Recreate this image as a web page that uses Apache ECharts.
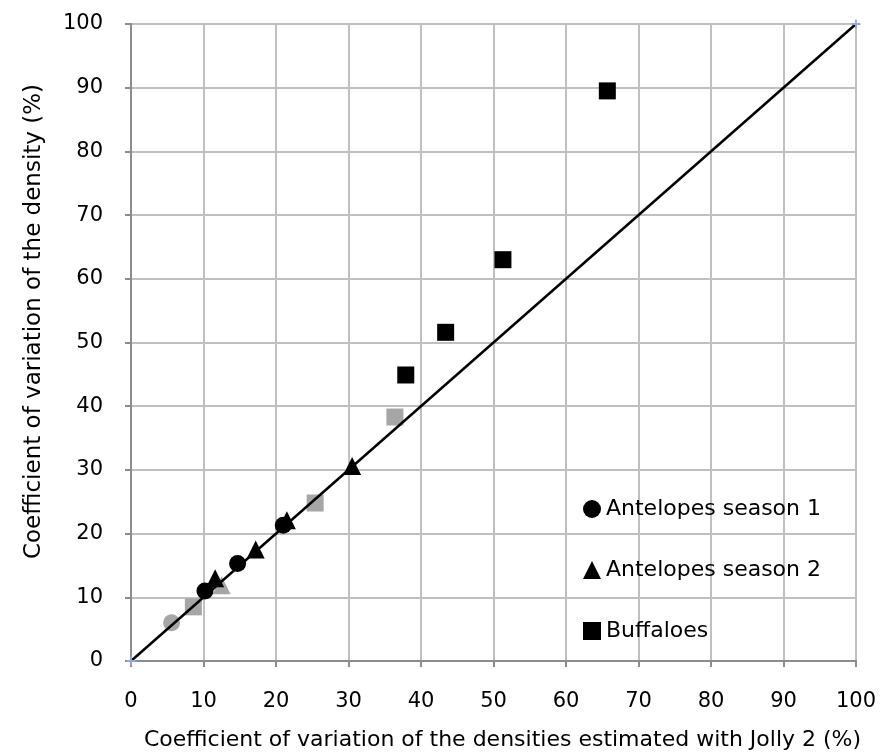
<!DOCTYPE html>
<html>
<head>
<meta charset="utf-8">
<script src="https://cdn.jsdelivr.net/npm/echarts@6/dist/echarts.min.js"></script>
<style>
  html, body { margin: 0; padding: 0; background: #fff; }
  #main { width: 881px; height: 753px; }
</style>
</head>
<body>
<div id="main"></div>
<script>
// black markers
var antelopes1 = [[10.2, 11.0], [14.7, 15.3], [21.0, 21.3]]
var antelopes2 = [[11.6, 13.0], [17.2, 17.5], [21.5, 22.1], [30.5, 30.6]]
var buffaloes = [[37.9, 44.9], [43.4, 51.6], [51.3, 63.0], [65.7, 89.5]]
// grey markers (not in legend)
var greyCircles = [[5.6, 6.0]]
var greyTriangles = [[12.5, 11.9]]
var greySquares = [[8.6, 8.5], [25.4, 24.8], [36.4, 38.3]]
// 1:1 line
var identity = [[0, 0], [100, 100]]

var xTitle = 'Coefficient of variation of the densities estimated with Jolly 2 (%)'
var yTitle = 'Coefficient of variation of the density (%)'

var FONT = 'DejaVu Sans'
var plus = 'path://M4,0L6,0L6,4L10,4L10,6L6,6L6,10L4,10L4,6L0,6L0,4L4,4Z'

var chart = echarts.init(document.getElementById('main'))
chart.setOption({
  animation: false,
  grid: { left: 131, right: 25, top: 24, bottom: 92, outerBoundsMode: 'none' },
  legend: {
    orient: 'vertical',
    left: 578,
    top: 493,
    itemGap: 39,
    itemWidth: 18,
    itemHeight: 18,
    textStyle: { fontFamily: FONT, fontSize: 22, color: '#000' },
    data: [
      { name: 'Antelopes season 1', icon: 'circle' },
      { name: 'Antelopes season 2', icon: 'triangle' },
      { name: 'Buffaloes', icon: 'rect' }
    ]
  },
  xAxis: {
    type: 'value', min: 0, max: 100, interval: 10,
    name: xTitle, nameLocation: 'middle', nameGap: 68,
    nameTextStyle: { fontFamily: FONT, fontSize: 22, color: '#000', padding: [0, 0, 0, 18] },
    axisLine: { lineStyle: { color: '#8c8c8c', width: 2 } },
    axisTick: { show: true, length: 6, lineStyle: { color: '#8c8c8c', width: 2 } },
    axisLabel: { fontFamily: FONT, fontSize: 21, color: '#000', margin: 30 },
    splitLine: { lineStyle: { color: '#c0c0c0', width: 2 } }
  },
  yAxis: {
    type: 'value', min: 0, max: 100, interval: 10,
    name: yTitle, nameLocation: 'middle', nameGap: 85, nameRotate: 90,
    nameTextStyle: { fontFamily: FONT, fontSize: 23, color: '#000', padding: [0, 0, 0, 42] },
    axisLine: { show: true, lineStyle: { color: '#8c8c8c', width: 2 } },
    axisTick: { show: true, length: 6, lineStyle: { color: '#8c8c8c', width: 2 } },
    axisLabel: { fontFamily: FONT, fontSize: 21, color: '#000', margin: 28 },
    splitLine: { lineStyle: { color: '#c0c0c0', width: 2 } }
  },
  series: [
    { name: 'greyC', type: 'scatter', data: greyCircles, symbol: 'circle', symbolSize: 17,
      itemStyle: { color: '#a6a6a6', opacity: 1 }, z: 2 },
    { name: 'greyT', type: 'scatter', data: greyTriangles, symbol: 'triangle', symbolSize: 18,
      itemStyle: { color: '#a6a6a6', opacity: 1 }, z: 2 },
    { name: 'greyS', type: 'scatter', data: greySquares, symbol: 'rect', symbolSize: 17,
      itemStyle: { color: '#a6a6a6', opacity: 1 }, z: 2 },
    { name: 'Antelopes season 2', type: 'scatter', data: antelopes2, symbol: 'triangle', symbolSize: 18,
      itemStyle: { color: '#000', opacity: 1 }, z: 3 },
    { name: 'Antelopes season 1', type: 'scatter', data: antelopes1, symbol: 'circle', symbolSize: 17,
      itemStyle: { color: '#000', opacity: 1 }, z: 4 },
    { name: 'Buffaloes', type: 'scatter', data: buffaloes, symbol: 'rect', symbolSize: 17,
      itemStyle: { color: '#000', opacity: 1 }, z: 4 },
    { name: 'line', type: 'line', data: identity, symbol: plus, symbolSize: 9,
      itemStyle: { color: '#8eaadb' },
      lineStyle: { color: '#000', width: 2.5 }, z: 5 }
  ]
})
</script>
</body>
</html>
